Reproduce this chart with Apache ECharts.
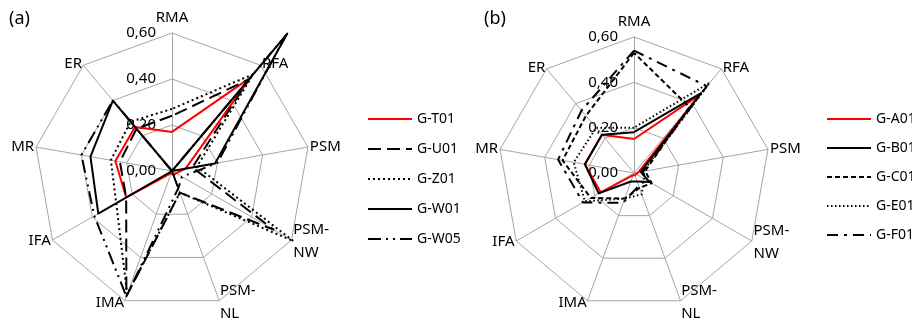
<!DOCTYPE html>
<html>
<head>
<meta charset="utf-8">
<script src="https://cdn.jsdelivr.net/npm/echarts@6/dist/echarts.min.js"></script>
<style>html,body{margin:0;padding:0;background:#fff}#c{width:912px;height:324px}</style>
</head>
<body>
<div id="c"></div>
<script>
// Axes in reading order (clockwise from top)
const axisNames = ['RMA', 'RFA', 'PSM', 'PSM-\nNW', 'PSM-\nNL', 'IMA', 'IFA', 'MR', 'ER'];
const axisMax = 0.6;

// Panel (a)
const namesA = ['G-T01', 'G-U01', 'G-Z01', 'G-W01', 'G-W05'];
const gT01 = [0.17, 0.53, 0.06, 0.02, 0.02, 0.01, 0.23, 0.25, 0.25];
const gU01 = [0.24, 0.52, 0.09, 0.51, 0.10, 0.58, 0.23, 0.23, 0.24];
const gZ01 = [0.27, 0.55, 0.11, 0.61, 0.10, 0.57, 0.28, 0.27, 0.28];
const gW01 = [0.00, 0.78, 0.19, 0.00, 0.07, 0.00, 0.37, 0.36, 0.40];
const gW05 = [0.00, 0.77, 0.20, 0.05, 0.08, 0.58, 0.39, 0.40, 0.40];

// Panel (b)
const namesB = ['G-A01', 'G-B01', 'G-C01', 'G-E01', 'G-F01'];
const gA01 = [0.15, 0.45, 0.02, 0.01, 0.01, 0.01, 0.17, 0.22, 0.22];
const gB01 = [0.18, 0.46, 0.03, 0.08, 0.04, 0.04, 0.18, 0.22, 0.22];
const gC01 = [0.53, 0.38, 0.05, 0.09, 0.07, 0.12, 0.22, 0.32, 0.33];
const gE01 = [0.20, 0.52, 0.04, 0.05, 0.10, 0.12, 0.25, 0.27, 0.26];
const gF01 = [0.54, 0.50, 0.04, 0.06, 0.06, 0.14, 0.26, 0.34, 0.36];

const FONT = 'Noto Sans';
// ECharts places indicators counter-clockwise; reorder so they read clockwise
const order = [0, 8, 7, 6, 5, 4, 3, 2, 1];
const reorder = arr => order.map(i => arr[i]);

const styles = {
  'G-T01': {color: '#ff0000', width: 2, type: 'solid'},
  'G-U01': {color: '#000', width: 2, type: [13, 6]},
  'G-Z01': {color: '#000', width: 2, type: [2, 3]},
  'G-W01': {color: '#000', width: 2, type: 'solid'},
  'G-W05': {color: '#000', width: 2, type: [13, 5, 2, 5, 2, 5]},
  'G-A01': {color: '#ff0000', width: 2, type: 'solid'},
  'G-B01': {color: '#000', width: 2, type: 'solid'},
  'G-C01': {color: '#000', width: 2, type: [5, 3]},
  'G-E01': {color: '#000', width: 2, type: [1.5, 2.5]},
  'G-F01': {color: '#000', width: 2, type: [11, 6, 3, 6]}
};

function makeRadar(cx, cy, r) {
  return {
    center: [cx, cy],
    radius: r,
    startAngle: 90,
    shape: 'polygon',
    splitNumber: 3,
    nameGap: 2,
    axisName: {
      color: '#000', fontSize: 15, fontFamily: FONT, lineHeight: 16,
      formatter: n => n.indexOf('\n') >= 0 ? n.split('\n').map(s => '{m|' + s + '}').join('\n') : n,
      rich: {m: {color: '#000', fontSize: 15, fontFamily: FONT, lineHeight: 23}}
    },
    splitLine: {lineStyle: {color: '#a6a6a6', width: 1}},
    splitArea: {show: false},
    axisLine: {lineStyle: {color: '#a6a6a6', width: 1}},
    axisTick: {show: false},
    axisLabel: {show: false},
    indicator: reorder(axisNames).map((n, i) => {
      const o = {name: n, min: 0, max: axisMax};
      if (i === 0) {
        o.axisLabel = {
          show: true, color: '#000', fontSize: 15, fontFamily: FONT, margin: 16,
          showMinLabel: true, showMaxLabel: true,
          formatter: v => v.toFixed(2).replace('.', ',')
        };
      }
      return o;
    })
  };
}

function makeSeries(radarIndex, names, arrays) {
  return {
    type: 'radar',
    radarIndex: radarIndex,
    symbol: 'none',
    silent: true,
    z: 3,
    data: names.map((n, k) => ({
      name: n,
      value: reorder(arrays[k]),
      lineStyle: styles[n],
      itemStyle: {color: styles[n].color}
    }))
  };
}

function makeLegend(left, top, gap, names) {
  return {
    orient: 'vertical',
    left: left,
    top: top,
    padding: 0,
    itemWidth: 44,
    itemHeight: 10,
    itemGap: gap,
    selectedMode: false,
    textStyle: {color: '#000', fontSize: 14, fontFamily: FONT},
    data: names.map(n => ({
      name: n,
      icon: 'path://M0,5L44,5M0,0L0,0M0,10L0,10',
      itemStyle: {color: 'transparent', borderColor: styles[n].color, borderWidth: 2, borderType: styles[n].type}
    }))
  };
}

const chart = echarts.init(document.getElementById('c'), null, {renderer: 'canvas'});
chart.setOption({
  animation: false,
  backgroundColor: '#fff',
  title: [
    {text: '(a)', left: 4, top: 5, textStyle: {fontSize: 18, fontWeight: 'normal', color: '#000', fontFamily: FONT}},
    {text: '(b)', left: 479, top: 5, textStyle: {fontSize: 18, fontWeight: 'normal', color: '#000', fontFamily: FONT}}
  ],
  legend: [makeLegend(367, 112, 16, namesA), makeLegend(826, 112, 15, namesB)],
  radar: [makeRadar(172, 171, 138), makeRadar(634, 173, 136)],
  series: [
    makeSeries(0, namesA, [gT01, gU01, gZ01, gW01, gW05]),
    makeSeries(1, namesB, [gA01, gB01, gC01, gE01, gF01])
  ]
});
</script>
</body>
</html>
